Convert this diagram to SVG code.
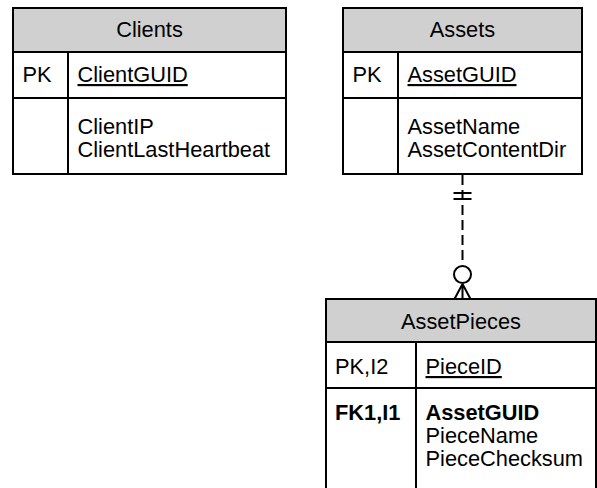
<svg xmlns="http://www.w3.org/2000/svg" width="597" height="488" viewBox="0 0 597 488">
<style>
text{font-family:"Liberation Sans",Arial,sans-serif;font-size:21.8px;fill:#000}
.title{text-anchor:middle}
.u{text-decoration:underline}
.b{font-weight:bold}
.box{fill:#fff;stroke:#000;stroke-width:2}
.hdr{fill:#d0d0d0;stroke:#000;stroke-width:2}
.ln{stroke:#000;stroke-width:2;fill:none}
</style>
<rect width="597" height="488" fill="#fff"/>
<g id="clients">
<rect class="box" x="13" y="8" width="273" height="166"/>
<rect class="hdr" x="13" y="8" width="273" height="44"/>
<line class="ln" x1="13" y1="98" x2="286" y2="98"/>
<line class="ln" x1="68" y1="52" x2="68" y2="174"/>
<text class="title" x="149.5" y="37">Clients</text>
<text x="22.5" y="82">PK</text>
<text class="u" x="77.5" y="82">ClientGUID</text>
<text x="77.5" y="134">ClientIP</text>
<text x="77.5" y="157">ClientLastHeartbeat</text>
</g>
<g id="assets">
<rect class="box" x="343" y="8" width="239" height="166"/>
<rect class="hdr" x="343" y="8" width="239" height="44"/>
<line class="ln" x1="343" y1="98" x2="582" y2="98"/>
<line class="ln" x1="398" y1="52" x2="398" y2="174"/>
<text class="title" x="462.5" y="37">Assets</text>
<text x="352.5" y="82">PK</text>
<text class="u" x="407.5" y="82">AssetGUID</text>
<text x="407.5" y="134">AssetName</text>
<text x="407.5" y="157">AssetContentDir</text>
</g>
<g id="assetpieces">
<rect class="box" x="326" y="299" width="270" height="200"/>
<rect class="hdr" x="326" y="299" width="270" height="43"/>
<line class="ln" x1="326" y1="388" x2="596" y2="388"/>
<line class="ln" x1="416" y1="342" x2="416" y2="499"/>
<text class="title" x="461" y="329">AssetPieces</text>
<text x="335" y="374">PK,I2</text>
<text class="u" x="425.5" y="374">PieceID</text>
<text class="b" x="335" y="420">FK1,I1</text>
<text class="b" x="425.5" y="420">AssetGUID</text>
<text x="425.5" y="443">PieceName</text>
<text x="425.5" y="466">PieceChecksum</text>
</g>
<g id="connectors">
<line class="ln" x1="462.5" y1="175" x2="462.5" y2="265" stroke-dasharray="10,5"/>
<line class="ln" x1="453.5" y1="193" x2="471.5" y2="193"/>
<line class="ln" x1="453.5" y1="199" x2="471.5" y2="199"/>
<circle class="ln" cx="462.5" cy="274.5" r="8.5"/>
<path class="ln" d="M462.5,284 L454.5,299 M462.5,284 L462.5,299 M462.5,284 L470.5,299"/>
</g>
</svg>
